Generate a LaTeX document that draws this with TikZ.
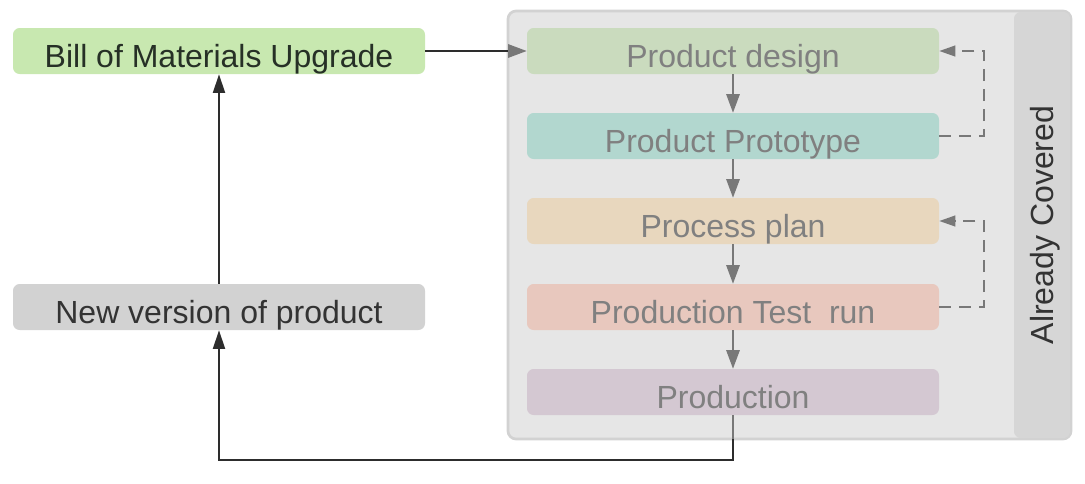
\documentclass[tikz,border=0pt]{standalone}
\usepackage{fontspec}
\setmainfont{Liberation Sans}
\usetikzlibrary{arrows.meta}
\definecolor{contfill}{RGB}{230,230,230}
\definecolor{contedge}{RGB}{210,210,210}
\definecolor{stripfill}{RGB}{214,214,214}
\definecolor{bomfill}{RGB}{200,232,176}
\definecolor{bomtext}{RGB}{38,48,38}
\definecolor{nvfill}{RGB}{210,210,210}
\definecolor{darktext}{RGB}{51,51,51}
\definecolor{pdfill}{RGB}{202,219,190}
\definecolor{ptfill}{RGB}{178,215,207}
\definecolor{ppfill}{RGB}{232,215,190}
\definecolor{trfill}{RGB}{232,200,190}
\definecolor{prfill}{RGB}{212,200,210}
\definecolor{graytext}{RGB}{128,128,128}
\definecolor{grayline}{RGB}{120,120,120}
\definecolor{darkline}{RGB}{45,45,45}
\tikzset{
  box/.style={rounded corners=5pt, inner sep=0pt, minimum width=309pt, minimum height=34.5pt, text height=24pt, text depth=0pt, font=\fontsize{24}{28}\selectfont},
  inner/.style={box, text=graytext},
  outer/.style={box, text=darktext},
  grayarrow/.style={draw=grayline, line width=1.5pt, -{Triangle[length=14pt,width=10pt]}},
  darkarrow/.style={draw=darkline, line width=1.5pt, -{Triangle[length=14pt,width=9pt]}},
  fbarrow/.style={draw=grayline, line width=1.5pt, dash pattern=on 9pt off 6pt, -{Triangle[length=12pt,width=8pt]}}
}
\begin{document}
\begin{tikzpicture}[x=0.75pt,y=-0.75pt]
\useasboundingbox (0,0) rectangle (1085,483);
% container
\draw[draw=contedge, fill=contfill, line width=2pt, rounded corners=6pt] (508,11) rectangle (1071,439);
\fill[stripfill, rounded corners=5pt] (1014,12) rectangle (1070,438);
\node[rotate=90, text=darktext, font=\fontsize{24}{28}\selectfont] (cov) at (1045,225) {Already Covered};
% left nodes
\node[outer, fill=bomfill, text=bomtext] (bom) at (219,51) {Bill of Materials Upgrade};
\node[outer, fill=nvfill] (nv) at (219,307) {New version of product};
% inner nodes
\node[inner, fill=pdfill] (pd) at (733,51) {Product design};
\node[inner, fill=ptfill] (pt) at (733,136) {Product Prototype};
\node[inner, fill=ppfill] (pp) at (733,221) {Process plan};
\node[inner, fill=trfill] (tr) at (733,307) {Production Test\ \ run};
\node[inner, fill=prfill] (pr) at (733,392) {Production};
% vertical chain
\draw[grayarrow] (pd) -- (pt);
\draw[grayarrow] (pt) -- (pp);
\draw[grayarrow] (pp) -- (tr);
\draw[grayarrow] (tr) -- (pr);
% feedback loops
\draw[fbarrow] (pt.east) -- ++(45,0) |- (pd.east);
\draw[fbarrow] (tr.east) -- ++(45,0) |- (pp.east);
% bom -> product design
\coordinate (cin) at (508,51);
\draw[darkline, line width=1.5pt] (bom.east) -- (cin);
\draw[grayarrow] (cin) -- (pd.west);
% production -> new version
\coordinate (cout) at (733,439);
\draw[grayline, line width=1.5pt] (pr.south) -- (cout);
\draw[darkarrow] (cout) -- (733,460) -| (nv.south);
% new version -> bom
\draw[darkarrow] (nv.north) -- (bom.south);
\end{tikzpicture}
\end{document}
